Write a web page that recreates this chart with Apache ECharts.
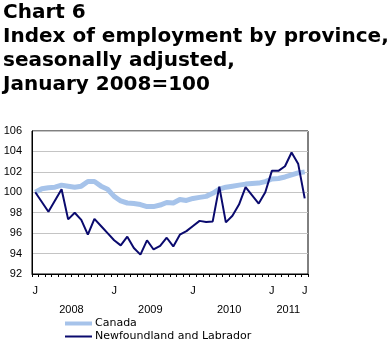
<!DOCTYPE html>
<html>
<head>
<meta charset="utf-8">
<script src="https://cdn.jsdelivr.net/npm/echarts@6/dist/echarts.min.js"></script>
<style>
html,body{margin:0;padding:0;background:#fff;}
#chart{width:392px;height:362px;}
</style>
</head>
<body>
<div id="chart"></div>
<script>
// Months January 2008 .. June 2011 (month initials as category names)
var months = ['J','F','M','A','M','J','J','A','S','O','N','D',
              'J','F','M','A','M','J','J','A','S','O','N','D',
              'J','F','M','A','M','J','J','A','S','O','N','D',
              'J','F','M','A','M','J'];
// indices of months whose initial is shown on the axis
var labelledMonths = [0, 12, 24, 36, 41];
// year labels placed at the middle of each year's span (month index)
var yearNames = ['2008', '2009', '2010', '2011'];
var yearCenters = [6, 18, 30, 39];

var canada = [100.0, 100.35, 100.45, 100.5, 100.7, 100.6, 100.5, 100.6, 101.05, 101.05, 100.6, 100.3,
              99.6, 99.15, 98.95, 98.9, 98.8, 98.6, 98.6, 98.75, 99.0, 98.95, 99.3, 99.2,
              99.4, 99.5, 99.6, 99.9, 100.3, 100.5, 100.6, 100.7, 100.8, 100.85, 100.9, 101.05,
              101.3, 101.35, 101.5, 101.7, 101.9, 102.0];
var newfoundland = [100.0, 99.05, 98.1, 99.2, 100.3, 97.35, 98.0, 97.3, 95.85, 97.4, 96.7, 96.0,
              95.3, 94.8, 95.65, 94.55, 93.9, 95.3, 94.4, 94.75, 95.55, 94.7, 95.85, 96.2,
              96.7, 97.2, 97.1, 97.15, 100.55, 97.05, 97.7, 98.8, 100.5, 99.7, 98.9, 100.0,
              102.1, 102.1, 102.55, 103.9, 102.8, 99.4];
var yMin = 92, yMax = 106, yStep = 2;

var canadaColor = '#a6c3ea', nlColor = '#0a0a6e';
var chart = echarts.init(document.getElementById('chart'), null, {renderer: 'canvas'});
var axisFont = {fontFamily: 'Liberation Sans, Arial, sans-serif', fontSize: 11, color: '#000'};
chart.setOption({
  animation: false,
  backgroundColor: '#fff',
  title: {
    text: 'Chart 6\nIndex of employment by province,\nseasonally adjusted,\nJanuary 2008=100',
    left: 3, top: 1, padding: 0,
    textStyle: {fontFamily: 'DejaVu Sans', fontWeight: 'bold', fontSize: 20, lineHeight: 24, color: '#000'}
  },
  grid: {left: 32, right: 84, top: 131, bottom: 88, show: true, borderColor: '#000', borderWidth: 1, containLabel: false},
  legend: {
    orient: 'vertical', left: 65, top: 317, padding: 0, itemGap: 0,
    itemWidth: 27, itemHeight: 5, symbolKeepAspect: true,
    textStyle: {fontFamily: 'DejaVu Sans', fontSize: 11, color: '#000', lineHeight: 13, padding: [0,0,0,-2]},
    data: [
      {name: 'Canada', icon: 'path://M0,0h27v4h-27z', itemStyle: {color: canadaColor}},
      {name: 'Newfoundland and Labrador', icon: 'path://M0,0h27v2h-27z', itemStyle: {color: nlColor}}
    ]
  },
  xAxis: [{
    type: 'category', data: months, boundaryGap: true,
    axisLine: {show: true, lineStyle: {color: '#000', width: 1}},
    axisTick: {show: true, interval: 0, length: 3, inside: false, lineStyle: {color: '#000'}},
    axisLabel: Object.assign({margin: 11, interval: function (i) { return labelledMonths.indexOf(i) >= 0; }}, axisFont),
    splitLine: {show: false}
  }, {
    type: 'value', min: 0, max: months.length, interval: 3, position: 'bottom',
    axisLine: {show: false}, axisTick: {show: false}, splitLine: {show: false},
    axisLabel: Object.assign({margin: 30, showMinLabel: true, showMaxLabel: true,
      formatter: function (v) { var k = yearCenters.indexOf(v); return k >= 0 ? yearNames[k] : ''; }}, axisFont)
  }],
  yAxis: {
    type: 'value', min: yMin, max: yMax, interval: yStep,
    axisLine: {show: true, lineStyle: {color: '#000'}},
    axisTick: {show: false},
    axisLabel: Object.assign({margin: 10}, axisFont),
    splitLine: {show: true, lineStyle: {color: '#c4c4c4', width: 1}}
  },
  series: [{
    name: 'Canada', type: 'line', data: canada, xAxisIndex: 0,
    symbol: 'none', smooth: false,
    lineStyle: {color: canadaColor, width: 5, join: 'round'},
    itemStyle: {color: canadaColor}, z: 2
  }, {
    name: 'Newfoundland and Labrador', type: 'line', data: newfoundland, xAxisIndex: 0,
    symbol: 'none', smooth: false,
    lineStyle: {color: nlColor, width: 2},
    itemStyle: {color: nlColor}, z: 3
  }]
});
</script>
</body>
</html>
